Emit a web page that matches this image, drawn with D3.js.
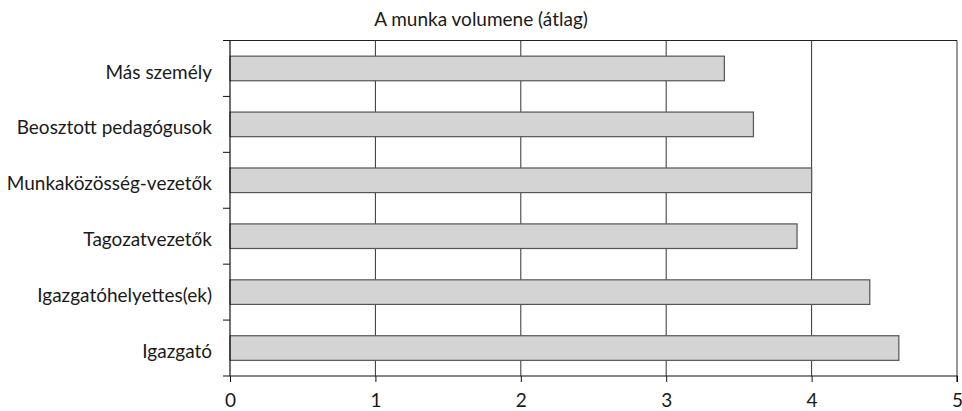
<!DOCTYPE html>
<html>
<head>
<meta charset="utf-8">
<script src="https://cdn.jsdelivr.net/npm/d3@7"></script>
<style>
  body { margin: 0; background: #fff; }
  text { font-family: Lato, "Open Sans", sans-serif; fill: #1a1a1a; }
</style>
</head>
<body>
<svg id="chart" width="962" height="411"></svg>
<script>
// chart data
const categories = ["Más személy", "Beosztott pedagógusok", "Munkaközösség-vezetők",
                    "Tagozatvezetők", "Igazgatóhelyettes(ek)", "Igazgató"];
const values = [3.4, 3.6, 4.0, 3.9, 4.4, 4.6];
const xTicks = [0, 1, 2, 3, 4, 5];
const title = "A munka volumene (átlag)";

const svg = d3.select("#chart");
const margin = {top: 40.5, right: 5, bottom: 35, left: 230};
const width = 962 - margin.left - margin.right;
const height = 411 - margin.top - margin.bottom;

let x = d3.scaleLinear().domain([0, 5]).range([0, width]);
let y = d3.scaleBand().domain(categories).range([0, height]).paddingInner(0.56).paddingOuter(0.28);

const g = svg.append("g").attr("transform", `translate(${margin.left},${margin.top})`);

// vertical grid lines
g.selectAll(".grid")
  .data(xTicks.slice(1))
  .enter()
  .append("line")
  .attr("x1", d => x(d)).attr("x2", d => x(d))
  .attr("y1", 0).attr("y2", height)
  .attr("stroke", "#333")
  .attr("stroke-width", 1);

// frame top
g.append("line").attr("x1", 0).attr("x2", width).attr("y1", 0).attr("y2", 0)
  .attr("stroke", "#222").attr("stroke-width", 1.2);

// bars
g.selectAll(".bar")
  .data(values)
  .enter()
  .append("rect")
  .attr("x", 0)
  .attr("y", (d, i) => y(categories[i]))
  .attr("width", d => x(d))
  .attr("height", y.bandwidth())
  .attr("fill", "#d4d4d4")
  .attr("stroke", "#555")
  .attr("stroke-width", 1.2);

// x axis
let xAxis = d3.axisBottom(x).tickValues(xTicks).tickSize(6).tickPadding(12).tickFormat(d3.format("d"));
let xg = g.append("g").attr("transform", `translate(0,${height})`).call(xAxis);
xg.select(".domain").attr("stroke", "#111").attr("stroke-width", 1.2).attr("d", `M-7,0H${width}V6`);
xg.selectAll(".tick line").attr("stroke", "#111");
xg.selectAll("text").style("font-size", "19px").style("font-family", "Lato, sans-serif").attr("fill", "#1a1a1a");

// y axis: line, ticks at band boundaries
g.append("line").attr("x1", 0).attr("x2", 0).attr("y1", 0).attr("y2", height)
  .attr("stroke", "#111").attr("stroke-width", 1.2);
const step = height / categories.length;
g.selectAll(".ytick")
  .data(d3.range(categories.length))
  .enter()
  .append("line")
  .attr("x1", -7).attr("x2", 0)
  .attr("y1", i => i * step).attr("y2", i => i * step)
  .attr("stroke", "#111");

g.selectAll(".ylabel")
  .data(categories)
  .enter()
  .append("text")
  .attr("x", -18)
  .attr("y", d => y(d) + y.bandwidth() / 2)
  .attr("dy", "0.53em")
  .attr("text-anchor", "end")
  .style("font-size", "19px")
  .text(d => d);

// title
svg.append("text")
  .attr("x", 481)
  .attr("y", 26)
  .attr("text-anchor", "middle")
  .style("font-size", "19px")
  .text(title);
</script>
</body>
</html>
